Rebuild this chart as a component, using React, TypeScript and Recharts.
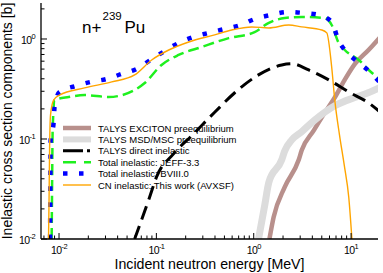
import React from 'react';
import { LineChart, Line, XAxis, YAxis, Legend } from 'recharts';

const FONT = '"Liberation Sans", Arial, Helvetica, sans-serif';

// energies in MeV, cross sections in barn
const excitonE = [1.45, 1.6, 2.08, 2.9, 3.11, 4.14, 5.0, 6.8, 8.6, 10.9, 15.2, 20];
const excitonXS = [0.01, 0.0165, 0.033, 0.062, 0.077, 0.122, 0.165, 0.26, 0.39, 0.56, 0.78, 1.05];

const msdE = [1.12, 1.3, 1.43, 1.94, 2.08, 2.46, 3.1, 4.24, 6.8, 10.9, 15, 20];
const msdXS = [0.01, 0.022, 0.037, 0.062, 0.076, 0.098, 0.118, 0.155, 0.215, 0.26, 0.29, 0.33];

const directE = [0.0598, 0.085, 0.1007, 0.15, 0.235, 0.397, 0.638, 1.13, 1.94, 2.46, 3.67, 5.9, 9.47, 15.2, 20.7];
const directXS = [0.01, 0.026, 0.042, 0.071, 0.11, 0.185, 0.29, 0.44, 0.55, 0.565, 0.49, 0.39, 0.295, 0.229, 0.18];

const jeffE = [0.0084, 0.0085, 0.0086, 0.009, 0.01256, 0.0183, 0.0324, 0.0598, 0.0759, 0.113, 0.169, 0.292, 0.553, 1.02, 1.43, 2.08, 3.11, 5.37, 6.32, 7.47, 8.61, 12.0, 15.2, 20];
const jeffXS = [0.01, 0.039, 0.123, 0.245, 0.263, 0.275, 0.263, 0.309, 0.363, 0.55, 0.692, 0.832, 1.02, 1.17, 1.45, 1.62, 1.66, 1.62, 1.38, 0.912, 0.776, 0.617, 0.49, 0.389];

const bviiiE = [0.0081, 0.00815, 0.0082, 0.0088, 0.009, 0.0101, 0.0148, 0.0211, 0.0309, 0.044, 0.0628, 0.0874, 0.122, 0.169, 0.242, 0.345, 0.503, 0.735, 1.02, 1.5, 2.24, 3.26, 4.66, 6.32, 7.47, 8.61, 11.7, 15.6, 20];
const bviiiXS = [0.01, 0.04, 0.098, 0.145, 0.209, 0.295, 0.339, 0.372, 0.398, 0.447, 0.501, 0.617, 0.759, 0.912, 1.05, 1.15, 1.26, 1.38, 1.58, 1.74, 1.86, 1.82, 1.74, 1.48, 0.95, 0.776, 0.589, 0.468, 0.363];

const cnE = [0.0078, 0.0079, 0.008, 0.00818, 0.0088, 0.0101, 0.0183, 0.0348, 0.0598, 0.0895, 0.134, 0.215, 0.397, 0.594, 0.954, 1.43, 2.29, 3.11, 5.0, 5.63, 6.32, 6.8, 7.6, 8.5, 9.47, 10.2];
const cnXS = [0.01, 0.0245, 0.078, 0.174, 0.245, 0.275, 0.324, 0.372, 0.437, 0.617, 0.776, 0.933, 1.1, 1.23, 1.32, 1.29, 1.38, 1.32, 1.23, 1.15, 0.525, 0.245, 0.11, 0.055, 0.026, 0.01];

const xDecades = [-3, -2, -1, 0, 1];
const yDecades = [-2, -1, 0];
const X_DOMAIN = [0.00653, 18.9];
const Y_DOMAIN = [0.01, 2.29];

const pts = (xs: number[], ys: number[]) => xs.map((x, i) => ({ x, y: ys[i] }));

const logTicks = (decades: number[], dom: number[]) => {
  const out: number[] = [];
  decades.forEach((d) => {
    for (let m = 1; m < 10; m++) {
      const v = +(m * Math.pow(10, d)).toPrecision(6);
      if (v >= dom[0] && v <= dom[1]) out.push(v);
    }
  });
  return out;
};

const xTicks = logTicks(xDecades, X_DOMAIN);
const yTicks = logTicks(yDecades, Y_DOMAIN);

const series = [
  { name: 'TALYS EXCITON preequilibrium', data: pts(excitonE, excitonXS), color: '#b8908c', width: 4.5 },
  { name: 'TALYS MSD/MSC preequilibrium', data: pts(msdE, msdXS), color: '#dcdcdc', width: 7 },
  { name: 'TALYS direct inelastic', data: pts(directE, directXS), color: '#000000', width: 3, dash: '14 7', legendDash: '20 4 3 10' },
  { name: 'Total inelastic: JEFF-3.3', data: pts(jeffE, jeffXS), color: '#1ef01e', width: 2.5, dash: '11 5', legendDash: '13 8' },
  { name: 'Total inelastic: BVIII.0', data: pts(bviiiE, bviiiXS), color: '#0000ff', width: 4.5, dash: '4.5 11.5', legendDash: '4.5 11.5' },
  { name: 'CN inelastic: This work (AVXSF)', data: pts(cnE, cnXS), color: '#ffa500', width: 1.4 },
];

const isMajor = (v: number) => Math.abs(Math.log10(v) - Math.round(Math.log10(v))) < 1e-6;

const Pow10 = ({ x, y, e, anchor }: any) => (
  <text x={x} y={y} textAnchor={anchor} fontFamily={FONT} fontSize={10.5} fill="#000" letterSpacing={-0.6}>
    10<tspan dy={-5} fontSize={7.5}>{e}</tspan>
  </text>
);

const XTick = (props: any) => {
  const { x, y, payload, side } = props;
  const v = payload.value;
  const len = isMajor(v) ? 6 : 3.5;
  const dir = side === 'top' ? 1 : -1;
  return (
    <g>
      <line x1={x} x2={x} y1={y} y2={y + dir * len} stroke="#000" strokeWidth={1} />
      {side === 'bottom' && isMajor(v) && <Pow10 x={x} y={y + 15} e={Math.round(Math.log10(v))} anchor="middle" />}
    </g>
  );
};

const YTick = (props: any) => {
  const { x, y, payload, side } = props;
  const v = payload.value;
  const len = isMajor(v) ? 6 : 3.5;
  const dir = side === 'left' ? 1 : -1;
  return (
    <g>
      <line x1={x} x2={x + dir * len} y1={y} y2={y} stroke="#000" strokeWidth={1} />
      {side === 'left' && isMajor(v) && <Pow10 x={x - 6} y={y + 5} e={Math.round(Math.log10(v))} anchor="end" />}
    </g>
  );
};

const LegendBox = () => (
  <svg width={200} height={72} style={{ display: 'block' }}>
    {series.map((s, i) => {
      const cy = 8 + i * 11.4;
      return (
        <g key={s.name}>
          <line x1={3} x2={31} y1={cy} y2={cy} stroke={s.color} strokeWidth={s.width > 5 ? 6 : s.width} strokeDasharray={s.legendDash} />
          <text x={38} y={cy + 3.5} fontFamily={FONT} fontSize={9.5} fill="#000">{s.name}</text>
        </g>
      );
    })}
  </svg>
);

const axisStyle = { stroke: '#000', strokeWidth: 1.3 };

export default function App() {
  return (
    <div style={{ position: 'relative', width: 383, height: 273, background: '#fff' }}>
      <style>{'body{margin:0}'}</style>
      <LineChart width={383} height={273} margin={{ top: 3, right: 5, bottom: 0, left: 0 }}>
        <XAxis
          xAxisId="b"
          type="number"
          dataKey="x"
          scale="log"
          domain={X_DOMAIN}
          allowDataOverflow
          ticks={xTicks}
          interval={0}
          tickSize={0}
          tickMargin={0}
          tickLine={false}
          axisLine={axisStyle}
          tick={<XTick side="bottom" />}
          height={34}
          label={{ value: 'Incident neutron energy [MeV]', position: 'insideBottom', offset: 4, fill: '#000', fontSize: 14.2, fontFamily: FONT }}
        />
        <XAxis
          xAxisId="t"
          orientation="top"
          type="number"
          dataKey="x"
          scale="log"
          domain={X_DOMAIN}
          allowDataOverflow
          ticks={xTicks}
          interval={0}
          tickSize={0}
          tickMargin={0}
          tickLine={false}
          axisLine={axisStyle}
          tick={<XTick side="top" />}
          height={0}
        />
        <YAxis
          yAxisId="l"
          type="number"
          scale="log"
          domain={Y_DOMAIN}
          allowDataOverflow
          ticks={yTicks}
          interval={0}
          tickSize={0}
          tickMargin={0}
          tickLine={false}
          axisLine={axisStyle}
          tick={<YTick side="left" />}
          width={41}
          label={{ value: 'Inelastic cross section components [b]', angle: -90, position: 'insideLeft', offset: 7, style: { textAnchor: 'middle' }, fill: '#000', fontSize: 14, fontFamily: FONT }}
        />
        <YAxis
          yAxisId="r"
          orientation="right"
          type="number"
          scale="log"
          domain={Y_DOMAIN}
          allowDataOverflow
          ticks={yTicks}
          interval={0}
          tickSize={0}
          tickMargin={0}
          tickLine={false}
          axisLine={axisStyle}
          tick={<YTick side="right" />}
          width={0}
        />
        <Legend
          layout="vertical"
          align="center"
          verticalAlign="middle"
          content={() => <LegendBox />}
          wrapperStyle={{ left: 60, top: 120, width: 200, height: 72 }}
        />
        {series.map((s) => (
          <Line
            key={s.name}
            xAxisId="b"
            yAxisId="l"
            data={s.data}
            dataKey="y"
            name={s.name}
            type="monotone"
            stroke={s.color}
            strokeWidth={s.width}
            strokeDasharray={s.dash}
            dot={false}
            activeDot={false}
            isAnimationActive={false}
          />
        ))}
      </LineChart>
      <svg width={120} height={40} style={{ position: 'absolute', left: 0, top: 0, overflow: 'visible', pointerEvents: 'none' }}>
        <g fontFamily={FONT} fill="#000">
          <text x={82} y={33} fontSize={17}>n+</text>
          <text x={102.5} y={19.5} fontSize={11.5}>239</text>
          <text x={124.5} y={33} fontSize={17}>Pu</text>
        </g>
      </svg>
    </div>
  );
}
